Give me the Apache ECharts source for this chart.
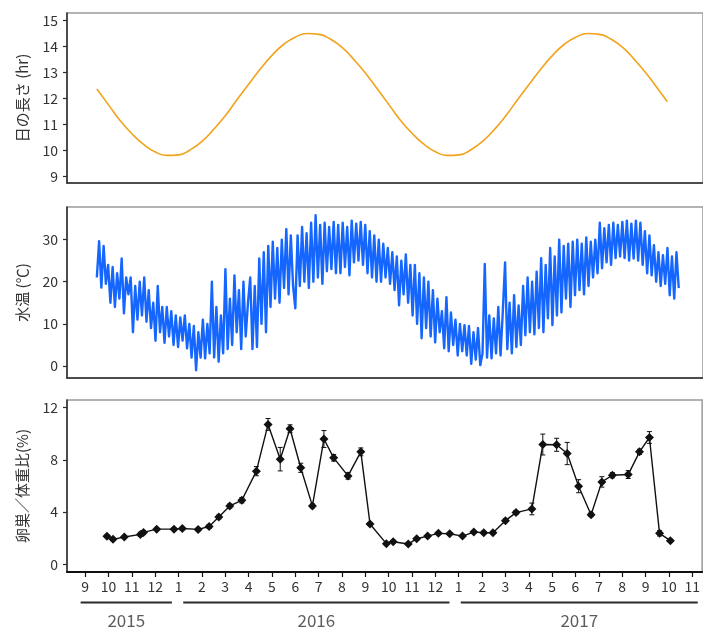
<!DOCTYPE html>
<html><head><meta charset="utf-8">
<script src="https://cdn.jsdelivr.net/npm/echarts@6/dist/echarts.min.js"></script>
<style>html,body{margin:0;padding:0;background:#fff}#c{width:703px;height:629px}</style>
</head><body><div id="c"></div>
<script>
// ---------- data ----------
const tickLabels = ['9','10','11','12','1','2','3','4','5','6','7','8','9','10','11','12','1','2','3','4','5','6','7','8','9','10','11'];
const firstTickDate = '2015-09-01';
const years = ['2015','2016','2017'];
const yearSpans = [['2015-08-26','2015-12-23'],['2016-01-07','2016-12-19'],['2017-01-03','2017-11-07']];

const dayTicks = [9,10,11,12,13,14,15];
const tempTicks = [0,10,20,30];
const gsiTicks = [0,4,8,12];

const dayLengthDates = ['2015-09-16','2015-10-01','2015-10-16','2015-11-01','2015-11-16','2015-12-01','2015-12-16',
 '2016-01-01','2016-01-16','2016-02-01','2016-02-15','2016-03-01','2016-03-16','2016-04-01','2016-04-16','2016-05-01','2016-05-16',
 '2016-06-01','2016-06-16','2016-07-01','2016-07-16','2016-08-01','2016-08-16','2016-09-01','2016-09-16','2016-10-01','2016-10-16',
 '2016-11-01','2016-11-16','2016-12-01','2016-12-16','2017-01-01','2017-01-16','2017-02-01','2017-02-15','2017-03-01','2017-03-16',
 '2017-04-01','2017-04-16','2017-05-01','2017-05-16','2017-06-01','2017-06-16','2017-07-01','2017-07-16','2017-08-01','2017-08-16',
 '2017-09-01','2017-09-16','2017-09-28'];
const dayLength = [12.36,11.75,11.16,10.64,10.23,9.94,9.81,
 9.83,10.02,10.35,10.80,11.34,11.94,12.55,13.14,13.66,14.07,
 14.36,14.49,14.46,14.28,13.95,13.50,12.96,12.36,11.75,11.16,
 10.64,10.23,9.94,9.81,9.83,10.02,10.35,10.80,11.34,11.94,
 12.55,13.14,13.66,14.07,14.36,14.49,14.46,14.28,13.95,13.50,
 12.96,12.36,11.87];

const waterTempStart = '2015-09-16';
const waterTempEnd = '2017-10-13';
const waterTemp = [
 21,29.6,18.6,28.5,19.5, 24,15,23.5,14,22,16, 25.5,12.5,21, 17,21,8,19,11,20, 12,21,10.5,18,
 9,15,6,19,8,14, 5.5,14,7,13,5,12, 4.5,11.5,6,12,4.2,10, 2,9.5,-1,8, 2,11,1.8,10,3,20,
 2,14,1,12,3,23,4, 16,5,21.5,8,18,4,20,7,15, 21,4,19, 4.5,25.5,10,27,8,28.5, 14,29.5,16,28,15,30,
 18.5,32.5,17,31,19,13.7, 31,19,33,20,31.5,18.5, 34,20,35.8,21,33.5,19.5, 34,22.5,33,23,34.2,22, 33.5,22,34,23.5,33,21.5,
 34.5,24.6,33.8,25,34.2,24, 33.5,22,32,21,31,20, 30,20,29,21,28,19.5, 27,18,26,14.4,25,17, 26.5,15,24,
 12,24,10,22,6.6,21,9, 20,7,18,5.6,16,8, 13,4.2,16.3,3.5,12.7,5, 11,2.5,10,3.5,9.7,2.5, 9.5,0.5,8,1.5,9,0.2,
 3,24.2,2,12,1.8,11.3,3, 14,2.5,13,24.6, 4,15,3,16.8,4.5,14.4,5, 19,7.3,21,8,20,7.5, 22.4,9,25.6,8,24,11.3,
 28,9.7,26,12, 30,12.7,28.5,16,29,14, 29.5,16.8,30,18,29,17, 30.5,19,29.5,21,30,22, 34,23.2,32.7,24.6,33.5,24,
 34,25.6,33.5,26,34.2,25.6, 34.5,25,33.8,25.5,34.5,25, 34,24,32,22,31,21.5, 28.7,20,27,19,26.3,19.5, 28,16.8,26,16,27,18.5
];

const gsiDates = ['2015-09-29','2015-10-07','2015-10-22','2015-11-12','2015-11-16','2015-12-03','2015-12-26','2016-01-06','2016-01-27','2016-02-10',
 '2016-02-22','2016-03-07','2016-03-23','2016-04-11','2016-04-26','2016-05-12','2016-05-25','2016-06-08','2016-06-23','2016-07-08',
 '2016-07-21','2016-08-09','2016-08-26','2016-09-07','2016-09-28','2016-10-07','2016-10-27','2016-11-07','2016-11-21','2016-12-05',
 '2016-12-20','2017-01-06','2017-01-21','2017-02-03','2017-02-14','2017-03-01','2017-03-15','2017-04-05','2017-04-19','2017-05-07',
 '2017-05-21','2017-06-05','2017-06-21','2017-07-05','2017-07-19','2017-08-09','2017-08-24','2017-09-06','2017-09-19','2017-10-03'];
const gsi = [2.15,1.92,2.1,2.3,2.45,2.7,2.7,2.75,2.68,2.9,
 3.63,4.48,4.91,7.14,10.72,8.06,10.39,7.4,4.48,9.6,
 8.16,6.78,8.62,3.1,1.59,1.74,1.56,1.97,2.17,2.38,
 2.35,2.17,2.48,2.43,2.43,3.35,3.97,4.25,9.18,9.16,
 8.49,5.99,3.81,6.32,6.83,6.88,8.62,9.72,2.38,1.82];
const gsiErr = [0.1,0.1,0.1,0.15,0.15,0.1,0.1,0.1,0.1,0.15,
 0.15,0.15,0.2,0.35,0.45,0.9,0.3,0.35,0.15,0.65,
 0.25,0.25,0.3,0.1,0.1,0.1,0.1,0.1,0.1,0.1,
 0.1,0.1,0.1,0.1,0.1,0.15,0.15,0.45,0.8,0.5,
 0.85,0.5,0.15,0.4,0.2,0.3,0.2,0.45,0.2,0.1];

// ---------- helpers ----------
function toM(s){ const p=s.split('-').map(Number); const dim=new Date(p[0],p[1],0).getDate(); return (p[0]-2015)*12+(p[1]-1)+(p[2]-1)/dim; }
const t0 = toM(firstTickDate);
const monthTicks = tickLabels.map((_,i)=>t0+i);
const X_MIN = 7.223, X_MAX = 34.425;
const FONT = "'Noto Sans CJK JP','Noto Sans',sans-serif";
const dark = '#2b2b2b';

const dayData = dayLengthDates.map((d,i)=>[toM(d), dayLength[i]]);
const ws = toM(waterTempStart), we = toM(waterTempEnd);
const tempData = waterTemp.map((v,i)=>[ws + (we-ws)*i/(waterTemp.length-1), v]);
const gsiData = gsiDates.map((d,i)=>[toM(d), gsi[i]]);
const errData = gsiDates.map((d,i)=>[toM(d), gsi[i]-gsiErr[i], gsi[i]+gsiErr[i]]);

const grids = [
 {left:67, width:640, top:13, height:170},
 {left:67, width:640, top:207, height:171},
 {left:67, width:640, top:400, height:172},
 {left:67, width:640, top:590, height:35}
].map((g,i)=>Object.assign(g, i<3 ? {show:true, borderColor:'#9a9a9a', borderWidth:1.5} : {show:false}));

function xa(i){
  const base = {type:'value', gridIndex:i, min:X_MIN, max:X_MAX, splitLine:{show:false}};
  if (i===3) return Object.assign(base,{show:false});
  if (i<2) return Object.assign(base,{axisLine:{show:true,onZero:false,lineStyle:{color:dark,width:1.5}},axisTick:{show:false},axisLabel:{show:false}});
  return Object.assign(base,{
    axisLine:{show:true,onZero:false,lineStyle:{color:'#111',width:2}},
    axisTick:{show:true,customValues:monthTicks,length:5,lineStyle:{color:'#111',width:1.2}},
    axisLabel:{show:true,customValues:monthTicks,margin:8,color:'#333',fontSize:14,fontFamily:FONT,
      formatter:v=>tickLabels[Math.round(v-t0)]}
  });
}
function ya(i,min,max,ticks,name){
  return {type:'value', gridIndex:i, min:min, max:max, splitLine:{show:false},
    name:name, nameLocation:'middle', nameGap:37, nameRotate:90,
    nameTextStyle:{fontSize:15,color:'#333',fontFamily:FONT},
    axisLine:{show:true,onZero:false,lineStyle:{color:dark,width:1.5}},
    axisTick:{show:true,customValues:ticks,length:4,lineStyle:{color:dark,width:1.2}},
    axisLabel:{show:true,customValues:ticks,margin:9,color:'#333',fontSize:14,fontFamily:FONT}};
}

const yearSeries = yearSpans.map((s,i)=>({
  type:'line', xAxisIndex:3, yAxisIndex:3, symbol:'none', silent:true,
  lineStyle:{color:dark,width:2}, data:[[toM(s[0]),0.64],[toM(s[1]),0.64]]
}));

const option = {
  animation:false,
  backgroundColor:'#fff',
  grid:grids,
  xAxis:[xa(0),xa(1),xa(2),xa(3)],
  yAxis:[
    ya(0,8.75,15.28,dayTicks,'日の長さ (hr)'),
    ya(1,-2.85,37.74,tempTicks,'水温 (℃)'),
    ya(2,-0.58,12.59,gsiTicks,'卵巣／体重比(%)'),
    {type:'value',gridIndex:3,min:0,max:1,show:false}
  ],
  series:[
    {type:'line', xAxisIndex:0, yAxisIndex:0, data:dayData, smooth:true, symbol:'none',
     lineStyle:{color:'#f2a31b',width:1.6}},
    {type:'line', xAxisIndex:1, yAxisIndex:1, data:tempData, symbol:'none',
     lineStyle:{color:'#1466ff',width:2.4,join:'round'}},
    {type:'custom', xAxisIndex:2, yAxisIndex:2, data:errData, z:3,
     renderItem:function(params,api){
       const x=api.value(0), lo=api.coord([x,api.value(1)]), hi=api.coord([x,api.value(2)]);
       const st={stroke:'#111',lineWidth:1};
       return {type:'group',children:[
         {type:'line',shape:{x1:lo[0],y1:lo[1],x2:hi[0],y2:hi[1]},style:st},
         {type:'line',shape:{x1:lo[0]-2.5,y1:lo[1],x2:lo[0]+2.5,y2:lo[1]},style:st},
         {type:'line',shape:{x1:hi[0]-2.5,y1:hi[1],x2:hi[0]+2.5,y2:hi[1]},style:st}
       ]};
     }},
    {type:'line', xAxisIndex:2, yAxisIndex:2, data:gsiData, symbol:'diamond', symbolSize:9, z:4,
     itemStyle:{color:'#111'}, lineStyle:{color:'#111',width:1.4}},
    ...yearSeries,
    {type:'scatter', xAxisIndex:3, yAxisIndex:3, symbolSize:1, silent:true,
     itemStyle:{color:'transparent'},
     data:yearSpans.map((s,i)=>({value:[(toM(s[0])+toM(s[1]))/2,0.12], name:years[i]})),
     label:{show:true,position:'inside',formatter:p=>p.name,color:'#333',fontSize:17,fontFamily:FONT}}
  ]
};
const chart = echarts.init(document.getElementById('c'),null,{renderer:'canvas'});
chart.setOption(option);
</script>
</body></html>
